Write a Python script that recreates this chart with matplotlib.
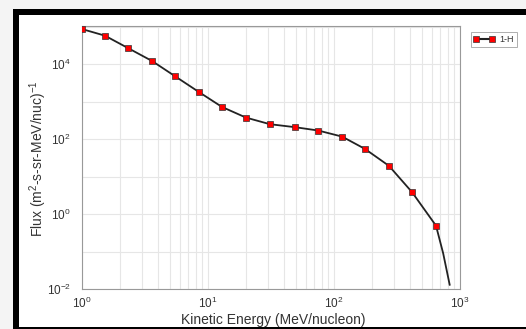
import matplotlib
matplotlib.use("Agg")
import matplotlib.pyplot as plt
from matplotlib.patches import Rectangle
from matplotlib.ticker import LogLocator, NullFormatter

# energia (MeV/nucleon) e fluxo
energia = [1.0, 1.52, 2.32, 3.6, 5.47, 8.5, 12.9, 20, 31, 49, 75, 116, 176, 273, 416, 645]
fluxo = [8.7e4, 5.8e4, 2.7e4, 1.22e4, 4.8e3, 1.8e3, 726, 377, 251, 209, 170, 117, 55, 19.4, 3.86, 0.49]

# cauda da curva (sem marcadores)
energia_cauda = [735, 828]
fluxo_cauda = [0.09, 0.013]

serie = "1-H"

plt.rcParams['font.family'] = ['Liberation Sans', 'DejaVu Sans']
plt.rcParams['mathtext.fontset'] = 'custom'
plt.rcParams['mathtext.rm'] = 'Liberation Sans'
plt.rcParams['mathtext.it'] = 'Liberation Sans'

fig = plt.figure(figsize=(5.26, 3.29), dpi=100)
fig.patch.set_facecolor('#f4f4f4')

# moldura preta
W, H = 526.0, 329.0
fig.patches.append(Rectangle((13 / W, -0.1), 1.2, 0.1 + (1 - 9 / H),
                             transform=fig.transFigure, facecolor='black',
                             edgecolor='none', zorder=-2))
fig.patches.append(Rectangle((19 / W, 2 / H), 1.2, (1 - 15 / H) - 2 / H,
                             transform=fig.transFigure, facecolor='white',
                             edgecolor='none', zorder=-1))

ax = fig.add_axes([82 / W, 1 - 289 / H, 378 / W, 263 / H])
ax.set_zorder(1)
ax.set_facecolor('white')

ax.plot(energia + energia_cauda, fluxo + fluxo_cauda, color='#222222', lw=1.3, zorder=3)
ax.plot(energia, fluxo, 's', color='red', markersize=4.5, markeredgecolor='#333333',
        markeredgewidth=0.5, zorder=4)
# so para a legenda
ax.plot([], [], '-s', color='#222222', markerfacecolor='red', markeredgecolor='#333333',
        markersize=4.5, markeredgewidth=0.5, label=serie)

ax.set_xscale('log')
ax.set_yscale('log')
ax.set_xlim(1, 1000)
ax.set_ylim(1e-2, 1.05e5)

ax.xaxis.set_major_locator(LogLocator(base=10, numticks=10))
ax.xaxis.set_minor_locator(LogLocator(base=10, subs=range(2, 10), numticks=20))
ax.xaxis.set_minor_formatter(NullFormatter())
ax.set_yticks([1e-2, 1, 1e2, 1e4])
ax.set_yticks([1e-1, 1e1, 1e3, 1e5], minor=True)
ax.yaxis.set_minor_formatter(NullFormatter())

ax.grid(True, which='both', color='#e6e6e6', lw=0.8)
ax.set_axisbelow(True)
ax.tick_params(which='both', length=0, labelsize=8.5, colors='#333333')
ax.tick_params(axis='x', pad=5)
ax.tick_params(axis='y', pad=8)
for s in ax.spines.values():
    s.set_color('#999999')
    s.set_linewidth(0.8)

ax.set_xlabel('Kinetic Energy (MeV/nucleon)', fontsize=10, color='#333333')
ax.set_ylabel('Flux (m$^2$-s-sr-MeV/nuc)$^{-1}$', fontsize=10, color='#333333')
ax.xaxis.set_label_coords(0.507, -0.092)
ax.yaxis.set_label_coords(-0.088, 0.494)

leg = ax.legend(loc='upper left', bbox_to_anchor=(1.028, 0.976), borderaxespad=0,
                fontsize=6.5, numpoints=2, fancybox=False, edgecolor='#999999',
                handlelength=2.4, borderpad=0.3, handletextpad=0.5)
leg.get_frame().set_linewidth(0.7)
for t in leg.get_texts():
    t.set_color('#333333')

fig.savefig('out.png', dpi=100, facecolor=fig.get_facecolor())
